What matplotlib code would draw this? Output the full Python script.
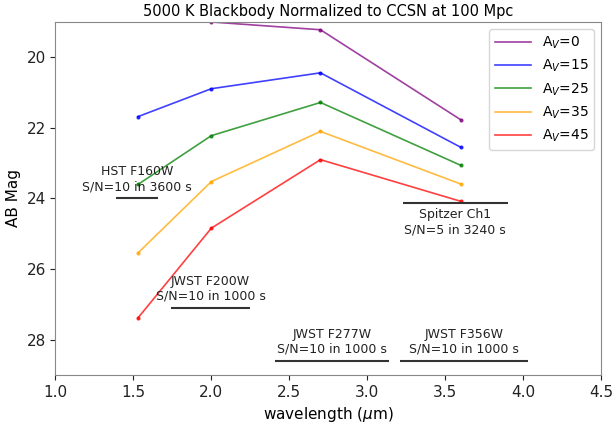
import numpy as np
import matplotlib
matplotlib.use("Agg")
import matplotlib.pyplot as plt

# wavelengths of the four bands (micron)
wavelength = [1.53, 2.0, 2.7, 3.6]

# AB magnitudes for each extinction value
extinctions = [0, 15, 25, 35, 45]
mag_av0 = [18.6, 19.0, 19.22, 21.77]
mag_av15 = [21.68, 20.89, 20.44, 22.55]
mag_av25 = [23.6, 22.22, 21.28, 23.06]
mag_av35 = [25.54, 23.52, 22.10, 23.59]
mag_av45 = [27.38, 24.84, 22.90, 24.08]
colors = ["purple", "blue", "green", "orange", "red"]

# sensitivity limits: instrument, exposure note, band edges, limiting mag
instruments = ["HST F160W", "JWST F200W", "JWST F277W", "JWST F356W", "Spitzer Ch1"]
sn_notes = ["S/N=10 in 3600 s", "S/N=10 in 1000 s", "S/N=10 in 1000 s",
            "S/N=10 in 1000 s", "S/N=5 in 3240 s"]
band_lo = [1.39, 1.74, 2.41, 3.21, 3.23]
band_hi = [1.66, 2.25, 3.14, 4.03, 3.90]
limit_mag = [24.0, 27.1, 28.6, 28.6, 24.12]
text_below = [False, False, False, False, True]

fig = plt.figure(figsize=(6.13, 4.23), dpi=100)
ax = fig.add_axes([0.0905, 0.1135, 0.890, 0.8345])

all_mags = [mag_av0, mag_av15, mag_av25, mag_av35, mag_av45]
for av, mags, c in zip(extinctions, all_mags, colors):
    ax.plot(wavelength, mags, color=c, marker="o", markersize=2, linewidth=1.2,
            alpha=0.75, label=f"A$_V$={av}")

for name, note, lo, hi, m, below in zip(instruments, sn_notes, band_lo, band_hi, limit_mag, text_below):
    ax.hlines(m, lo, hi, color="#333333", linewidth=1.5)
    xc = (lo + hi) / 2
    if below:
        ax.text(xc, m + 0.15, f"{name}\n{note}", ha="center", va="top", fontsize=9, color="#222222")
    else:
        ax.text(xc, m - 0.15, f"{name}\n{note}", ha="center", va="bottom", fontsize=9, color="#222222")

ax.set_xlim(1.0, 4.5)
ax.set_ylim(29, 19)
ax.set_yticks([20, 22, 24, 26, 28])
ax.tick_params(labelsize=11, colors="#222222")
for s in ax.spines.values():
    s.set_color("#888888")
ax.set_xlabel(r"wavelength ($\mu$m)", fontsize=11)
ax.set_ylabel("AB Mag", fontsize=11)
ax.set_title("5000 K Blackbody Normalized to CCSN at 100 Mpc", fontsize=10.5, pad=4)
leg = ax.legend(loc="upper right", fontsize=10, handlelength=2.6, labelspacing=0.5)
for h in leg.get_lines():
    h.set_marker("")

fig.savefig("out.png", dpi=100)
